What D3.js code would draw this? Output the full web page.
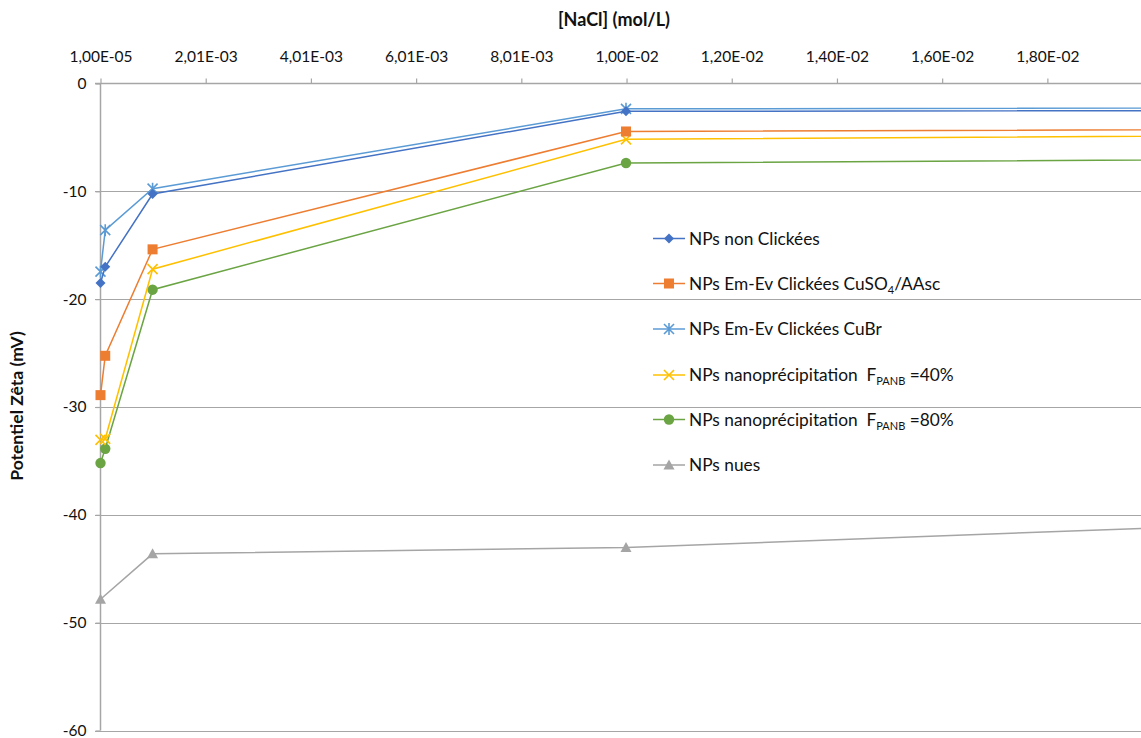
<!DOCTYPE html>
<html><head><meta charset="utf-8">
<script src="https://cdn.jsdelivr.net/npm/d3@7"></script>
<style>
html,body{margin:0;padding:0;background:#fff;overflow:hidden;}
svg{display:block;font-family:Lato, "Open Sans", sans-serif;}
</style></head>
<body>
<svg id="chart" width="1141" height="738"></svg>
<script>
// ---- data ----
const concentrations = [0.00001, 0.0001, 0.001, 0.01, 0.1];
const nonClickees   = [-18.5, -17.0, -10.25, -2.58, -2.03];
const cuso4         = [-28.9, -25.25, -15.38, -4.45, -3.07];
const cubr          = [-17.45, -13.6, -9.75, -2.35, -1.71];
const nano40        = [-33.05, -32.95, -17.22, -5.18, -2.6];
const nano80        = [-35.2, -33.87, -19.12, -7.37, -4.8];
const nuesConc      = [0.00001, 0.001, 0.01, 0.1];
const nues          = [-47.83, -43.62, -43.03, -26.8];
const xTickValues = [0.00001, 0.00201, 0.00401, 0.00601, 0.00801, 0.01001, 0.01201, 0.01401, 0.01601, 0.01801];
const xTickLabels = ["1,00E-05","2,01E-03","4,01E-03","6,01E-03","8,01E-03","1,00E-02","1,20E-02","1,40E-02","1,60E-02","1,80E-02"];
const yTickValues = [0, -10, -20, -30, -40, -50, -60];

const series = [
  {name: "NPs non Clickées", xs: concentrations, ys: nonClickees, color: "#4472C4", marker: "diamond"},
  {name: "NPs Em-Ev Clickées CuSO4/AAsc", xs: concentrations, ys: cuso4, color: "#ED7D31", marker: "square"},
  {name: "NPs Em-Ev Clickées CuBr", xs: concentrations, ys: cubr, color: "#5B9BD5", marker: "star"},
  {name: "NPs nanoprécipitation F40", xs: concentrations, ys: nano40, color: "#FFC000", marker: "x"},
  {name: "NPs nanoprécipitation F80", xs: concentrations, ys: nano80, color: "#6AA443", marker: "circle"},
  {name: "NPs nues", xs: nuesConc, ys: nues, color: "#A5A5A5", marker: "triangle"}
];

// ---- chart ----
const svg = d3.select("#chart");
const x = d3.scaleLinear().domain([0.00001, 0.01979]).range([100.5, 1141]);
const y = d3.scaleLinear().domain([0, -60]).range([83.5, 730.5]);

// gridlines
svg.append("g").selectAll("line").data(yTickValues.filter(v => v !== 0)).join("line")
  .attr("x1", 95).attr("x2", 1141)
  .attr("y1", d => Math.round(y(d)) + 0.5).attr("y2", d => Math.round(y(d)) + 0.5)
  .attr("stroke", "#A6A6A6").attr("stroke-width", 1.2);

// y axis
const yAxis = d3.axisLeft(y).tickValues(yTickValues).tickSize(5).tickPadding(9).tickFormat(d => d);
const gy = svg.append("g").attr("transform", "translate(100.5,0)").call(yAxis);
gy.select(".domain").attr("stroke", "#A6A6A6").attr("stroke-width", 1.5).attr("d", `M0,${y(0)}V${y(-60)}`);
gy.selectAll(".tick line").attr("stroke", "#A6A6A6").attr("stroke-width", 1.2);
gy.selectAll(".tick text").attr("font-size", 15.5).attr("fill", "#111").attr("font-family", "Lato");

// x axis (top)
const xAxis = d3.axisTop(x).tickValues(xTickValues).tickSize(5).tickPadding(17)
  .tickFormat((d, i) => xTickLabels[i]);
const gx = svg.append("g").attr("transform", `translate(0,${y(0)})`).call(xAxis);
gx.select(".domain").attr("stroke", "#A6A6A6").attr("stroke-width", 1.5).attr("d", `M95,0H1141`);
gx.selectAll(".tick line").attr("stroke", "#A6A6A6").attr("stroke-width", 1.2);
gx.selectAll(".tick text").attr("font-size", 15.5).attr("fill", "#111").attr("font-family", "Lato");

// axis titles
svg.append("text").attr("x", 614).attr("y", 26).attr("text-anchor", "middle")
  .attr("font-weight", "bold").attr("font-size", 18).attr("fill", "#111").text("[NaCl] (mol/L)");
svg.append("text").attr("transform", "translate(23,406) rotate(-90)").attr("text-anchor", "middle")
  .attr("font-weight", "bold").attr("font-size", 17.5).attr("fill", "#111").text("Potentiel Zêta (mV)");

// marker drawing
function drawMarker(g, type, color, cx, cy) {
  if (type === "diamond") {
    g.append("path").attr("d", `M${cx},${cy-5}L${cx+5},${cy}L${cx},${cy+5}L${cx-5},${cy}Z`).attr("fill", color);
  } else if (type === "square") {
    g.append("rect").attr("x", cx-5).attr("y", cy-5).attr("width", 10).attr("height", 10).attr("fill", color);
  } else if (type === "circle") {
    g.append("circle").attr("cx", cx).attr("cy", cy).attr("r", 5.2).attr("fill", color);
  } else if (type === "triangle") {
    g.append("path").attr("d", `M${cx},${cy-5.5}L${cx+5.5},${cy+4.5}L${cx-5.5},${cy+4.5}Z`).attr("fill", color);
  } else if (type === "x") {
    g.append("path").attr("d", `M${cx-5},${cy-5}L${cx+5},${cy+5}M${cx+5},${cy-5}L${cx-5},${cy+5}`)
      .attr("stroke", color).attr("stroke-width", 1.6).attr("fill", "none");
  } else if (type === "star") {
    g.append("path").attr("d", `M${cx-5},${cy-5}L${cx+5},${cy+5}M${cx+5},${cy-5}L${cx-5},${cy+5}M${cx},${cy-6}V${cy+6}`)
      .attr("stroke", color).attr("stroke-width", 1.6).attr("fill", "none");
  }
}

const line = d3.line().x(d => x(d[0])).y(d => y(d[1]));
const plot = svg.append("g");
// draw in reverse order so first series on top
series.slice().reverse().forEach(s => {
  const pts = s.xs.map((v, i) => [v, s.ys[i]]);
  plot.append("path").datum(pts).attr("d", line).attr("fill", "none")
    .attr("stroke", s.color).attr("stroke-width", 1.5);
  const mg = plot.append("g");
  pts.forEach(p => drawMarker(mg, s.marker, s.color, x(p[0]), y(p[1])));
});

// legend
const legendY = [238.5, 283.5, 329, 375, 419.5, 465];
const leg = svg.append("g");
series.forEach((s, i) => {
  const ly = legendY[i];
  leg.append("line").attr("x1", 653).attr("x2", 685).attr("y1", ly).attr("y2", ly)
    .attr("stroke", s.color).attr("stroke-width", 1.5);
  const mg = leg.append("g");
  drawMarker(mg, s.marker, s.color, 669, ly);
  const t = leg.append("text").attr("x", 689).attr("y", ly + 6).attr("font-size", 17.3).attr("fill", "#111");
  if (i === 1) {
    t.append("tspan").text("NPs Em-Ev Clickées CuSO");
    t.append("tspan").attr("font-size", 11).attr("dy", 4).text("4");
    t.append("tspan").attr("dy", -4).text("/AAsc");
  } else if (i === 3 || i === 4) {
    t.append("tspan").text("NPs nanoprécipitation\u00A0\u00A0F");
    t.append("tspan").attr("font-size", 11).attr("dy", 4).text("PANB");
    t.append("tspan").attr("dy", -4).text(i === 3 ? "\u00A0=40%" : "\u00A0=80%");
  } else {
    t.text(s.name);
  }
});
</script>
</body></html>
